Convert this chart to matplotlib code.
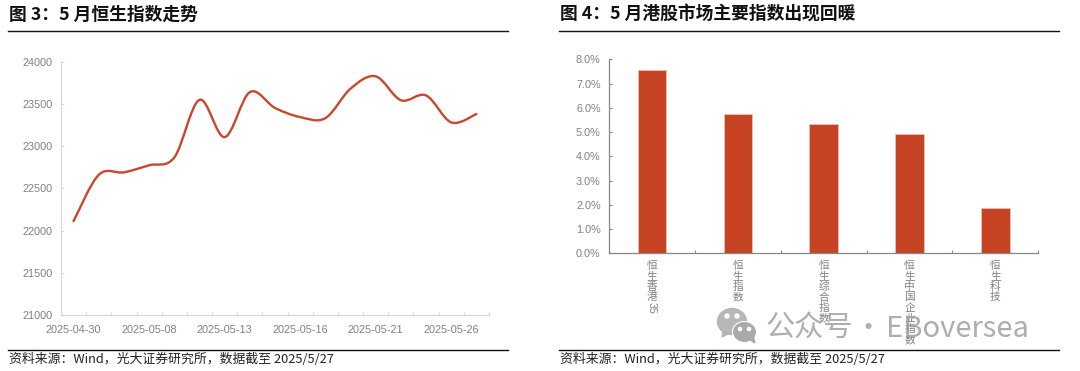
import re
import matplotlib
matplotlib.use('Agg')
import matplotlib.pyplot as plt
from matplotlib.lines import Line2D
from matplotlib.patches import Circle, Ellipse, PathPatch, Polygon
from matplotlib.path import Path

plt.rcParams['font.family'] = ['Liberation Sans', 'Noto Sans CJK SC', 'DejaVu Sans']

ANCHO, ALTO = 1080, 371
ROJO_LINEA = '#c9472b'
ROJO_BARRA = '#c64423'
GRIS_TEXTO = '#808080'
CJK = ['Noto Sans CJK SC', 'DejaVu Sans']

# figure 3
fechas = ['2025-04-30', '', '', '2025-05-08', '', '', '2025-05-13', '', '', '2025-05-16',
          '', '', '2025-05-21', '', '', '2025-05-26', '']
hsi = [22115, 22662, 22691, 22775, 22867, 23549, 23108, 23640, 23453, 23345,
       23332, 23681, 23827, 23544, 23601, 23282, 23381]
ticks_hsi = [21000, 21500, 22000, 22500, 23000, 23500, 24000]

# figure 4
indices = ['恒生香港35', '恒生指数', '恒生综合指数', '恒生中国企业指数', '恒生科技']
subidas = [7.56, 5.73, 5.35, 4.91, 1.88]
ticks_pct = [0, 1, 2, 3, 4, 5, 6, 7, 8]

titulo_3 = '图 3：5 月恒生指数走势'
titulo_4 = '图 4：5 月港股市场主要指数出现回暖'
fuente = '资料来源：Wind，光大证券研究所，数据截至 2025/5/27'


def caja(x0, y0, x1, y1):
    # pixels from the top left corner -> figure fractions
    return [x0 / ANCHO, 1 - y1 / ALTO, (x1 - x0) / ANCHO, (y1 - y0) / ALTO]


def curva_suave(xs, ys):
    # smoothed line as Excel draws it: bezier through every point
    verts = [(xs[0], ys[0])]
    codes = [Path.MOVETO]
    n = len(xs)
    for i in range(n - 1):
        a = max(i - 1, 0)
        b = min(i + 2, n - 1)
        verts.append((xs[i] + (xs[i + 1] - xs[a]) / 6, ys[i] + (ys[i + 1] - ys[a]) / 6))
        verts.append((xs[i + 1] - (xs[b] - xs[i]) / 6, ys[i + 1] - (ys[b] - ys[i]) / 6))
        verts.append((xs[i + 1], ys[i + 1]))
        codes += [Path.CURVE4, Path.CURVE4, Path.CURVE4]
    return Path(verts, codes)


def cabecera(x0, x1, titulo):
    fig.text((x0 + 1) / ANCHO, 1 - 15 / ALTO, titulo, family=CJK, fontsize=12.8,
             fontweight='bold', color='#111111', va='center', ha='left')
    fig.text((x0 + 1) / ANCHO, 1 - 359 / ALTO, fuente, family=CJK, fontsize=9.25,
             color='#222222', va='center', ha='left')
    for y in (31.3, 349.8):
        fig.add_artist(Line2D([x0 / ANCHO, x1 / ANCHO], [1 - y / ALTO, 1 - y / ALTO],
                              color='#111111', lw=1.0))


def ejes(ax, color):
    ax.spines['top'].set_visible(False)
    ax.spines['right'].set_visible(False)
    ax.spines['left'].set_color(color)
    ax.spines['bottom'].set_color(color)
    ax.spines['left'].set_linewidth(0.9)
    ax.spines['bottom'].set_linewidth(0.9)
    ax.tick_params(axis='both', which='major', direction='in', length=2.5, width=0.8,
                   color=color, labelcolor=GRIS_TEXTO, labelsize=7.8)
    ax.tick_params(axis='x', which='minor', length=0, labelcolor=GRIS_TEXTO, labelsize=7.8)


fig = plt.figure(figsize=(ANCHO / 100, ALTO / 100), dpi=100)
cabecera(8, 508, titulo_3)
cabecera(559, 1059, titulo_4)

# left chart
ax1 = fig.add_axes(caja(61, 61.7, 489, 315.3))
ejes(ax1, '#d9d9d9')
pos = [i + 0.5 for i in range(len(hsi))]
ax1.add_patch(PathPatch(curva_suave(pos, hsi), fill=False, edgecolor=ROJO_LINEA, lw=1.7,
                        capstyle='round', joinstyle='round'))
ax1.set_xlim(0, len(hsi))
ax1.set_ylim(ticks_hsi[0], ticks_hsi[-1])
ax1.set_yticks(ticks_hsi)
ax1.tick_params(axis='y', pad=6)
ax1.set_xticks(range(len(hsi) + 1))
ax1.set_xticklabels([])
marcadas = [i for i, f in enumerate(fechas) if f]
ax1.set_xticks([pos[i] for i in marcadas], [fechas[i] for i in marcadas], minor=True)
ax1.tick_params(axis='x', which='minor', pad=7)

# right chart
ax2 = fig.add_axes(caja(609, 59.3, 1038.3, 253.3))
ejes(ax2, '#868686')
pos2 = [i + 0.5 for i in range(len(indices))]
ax2.bar(pos2, subidas, width=0.33, color=ROJO_BARRA, edgecolor='#eec4b8', linewidth=0.5)
ax2.set_xlim(0, len(indices))
ax2.set_ylim(ticks_pct[0], ticks_pct[-1])
ax2.set_yticks(ticks_pct, [f'{v:.1f}%' for v in ticks_pct])
ax2.tick_params(axis='y', pad=6)
ax2.set_xticks(range(len(indices) + 1))
ax2.set_xticklabels([])
# labels stacked one sign per line, digits turned on their side
for x, nombre in zip(pos2, indices):
    for j, trozo in enumerate(re.findall(r'[0-9]+|.', nombre)):
        ax2.annotate(trozo, xy=(x, 0), xycoords=ax2.get_xaxis_transform(),
                     xytext=(0, -12.2 - 10.65 * j), textcoords='offset pixels',
                     rotation=270 if trozo.isdigit() else 0, fontsize=7.7,
                     color=GRIS_TEXTO, ha='center', va='center', annotation_clip=False)

# watermark
GRIS_MARCA = '#b4b4b4'
capa = fig.add_axes([0, 0, 1, 1], facecolor='none')
capa.set_xlim(0, ANCHO)
capa.set_ylim(ALTO, 0)
capa.axis('off')
capa.add_patch(Ellipse((732, 321.5), 29, 26, color=GRIS_MARCA, alpha=0.95))
capa.add_patch(Polygon([(723, 331), (722, 337), (730, 333)], color=GRIS_MARCA, alpha=0.95))
capa.add_patch(Ellipse((744.5, 332), 24, 21, color='#a9a9a9', ec='white', lw=0.8))
capa.add_patch(Polygon([(749, 339), (755, 343), (753, 335)], color='#a9a9a9'))
for cx, cy, r in [(727, 316, 2), (737, 316, 2), (740, 329, 1.6), (749, 329, 1.6)]:
    capa.add_patch(Circle((cx, cy), r, color='white'))
for x, trozo, lado in [(766, '公众号', 'left'), (868, '·', 'center'), (886, 'EBoversea', 'left')]:
    capa.text(x, 329, trozo, family=CJK, fontsize=21, color='#9a9a9a', alpha=0.8,
              va='center', ha=lado)

fig.savefig('out.png', dpi=100)
